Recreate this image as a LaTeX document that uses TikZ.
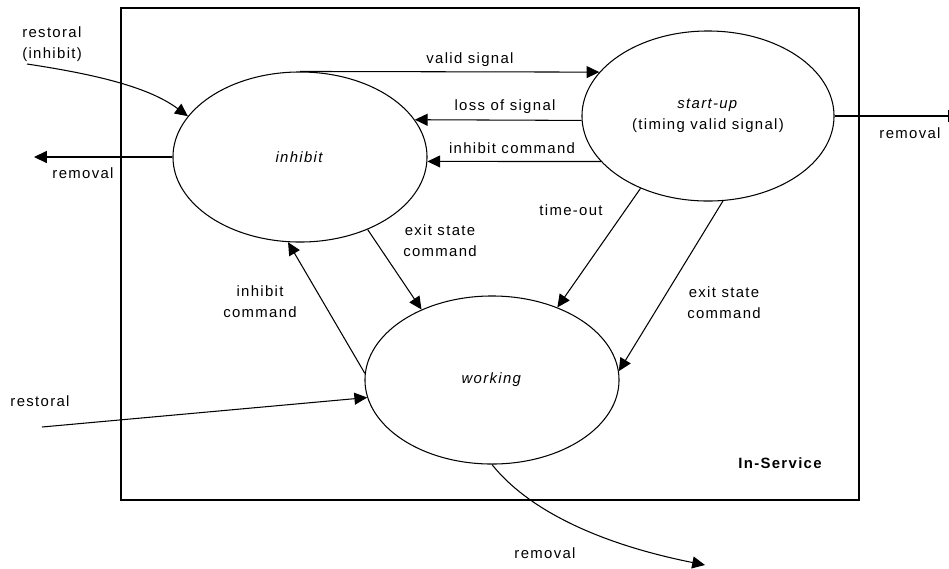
\documentclass[tikz,border=0pt]{standalone}
\usepackage{fontspec}
\setmainfont{Liberation Sans}[LetterSpace=9]
\usepackage{tikz}
\usetikzlibrary{arrows.meta}
\usetikzlibrary{shapes}
\usetikzlibrary{positioning}

\begin{document}
\begin{tikzpicture}[
        x=0.025cm, y=-0.025cm,
        every node/.style={font={\fontsize{10.6}{15}\selectfont}},
        state/.style={draw, ellipse, line width=0.75pt, inner sep=0pt, align=center},
        trans/.style={draw, line width=0.75pt, -{Triangle[length=3.2mm, width=3mm]}},
        lbl/.style={inner sep=0pt, align=center}
    ]

    \useasboundingbox (0,0) rectangle (949,568);

    %=== In-Service frame ===%
    \draw[line width=0.75pt] (121,8) rectangle (859,500);
    \node[lbl, anchor=base] (lService) at (780,468) {\bfseries In-Service};

    %=== States ===%
    \node[state, minimum width=6.35cm, minimum height=4.25cm] (inhibit) at (300,157) {\textit{inhibit}};
    \node[state, minimum width=6.3cm, minimum height=4.25cm] (startup) at (708,116) {\textit{start-up}\\(timing valid signal)};
    \node[state, minimum width=6.35cm, minimum height=4.2cm] (working) at (492,380) {\textit{working}};

    %=== Outside ends ===%
    \coordinate (restIn) at (27,64);
    \coordinate (remL) at (34,157);
    \coordinate (remR) at (961,116);
    \coordinate (restW) at (42,427);
    \coordinate (remB) at (705,565);

    %=== Transitions ===%
    \draw[trans] (inhibit.north) -- (startup.158);
    \draw[trans] (startup.182) -- (inhibit.18);
    \draw[trans] (startup.203) -- (inhibit.-2);
    \draw[trans] (restIn) .. controls (100,75) and (150,88) .. (inhibit.160);
    \draw[trans] (inhibit.west) -- (remL);
    \draw[trans] (startup.east) -- (remR);
    \draw[trans] (startup.227) -- (working.48);
    \draw[trans] (startup.280) -- (working.4);
    \draw[trans] (inhibit.-47) -- (working.135);
    \draw[trans] (working.177) -- (inhibit.262);
    \draw[trans] (restW) -- (working.188);
    \draw[trans] (working.south) .. controls (520,500) and (580,540) .. (remB);

    %=== Labels ===%
    \node[lbl, anchor=base] (lValid) at (470,63) {valid signal};
    \node[lbl, anchor=base] (lLoss) at (505,110) {loss of signal};
    \node[lbl, anchor=base] (lInhTop) at (512,153) {inhibit command};
    \node[lbl, anchor=west, align=left] (lRestIn) at (22,44) {restoral\\(inhibit)};
    \node[lbl, anchor=base] (lRemL) at (83,178) {removal};
    \node[lbl, anchor=base] (lRemR) at (910,138) {removal};
    \node[lbl, anchor=base] (lTime) at (571,215) {time-out};
    \node[lbl] (lExitL) at (440,241) {exit state\\command};
    \node[lbl] (lInhL) at (260,302) {inhibit\\command};
    \node[lbl] (lExitR) at (724,303) {exit state\\command};
    \node[lbl, anchor=base] (lRestW) at (40,406) {restoral};
    \node[lbl, anchor=base] (lRemB) at (545,558) {removal};

\end{tikzpicture}
\end{document}
